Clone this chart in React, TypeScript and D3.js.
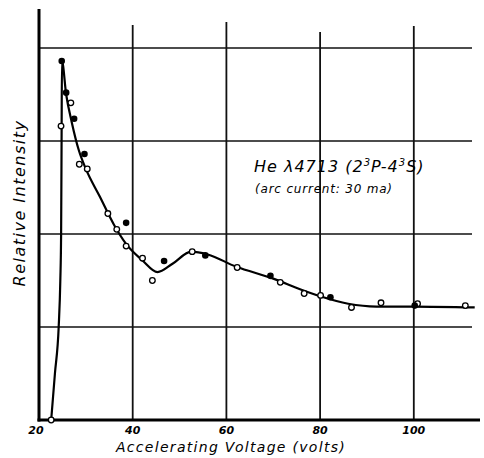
import { useRef, useEffect } from "react";
import * as d3 from "d3";

// measured points (open and filled circles), voltage in volts, relative intensity in grid units
const openV = [22.6, 24.7, 26.8, 28.6, 30.3, 34.7, 36.6, 38.6, 42.1, 44.2, 52.7, 62.3, 71.5, 76.6, 80.1, 86.7, 93.0, 100.8, 111.0];
const openI = [0.0, 3.16, 3.41, 2.75, 2.7, 2.22, 2.05, 1.87, 1.74, 1.5, 1.81, 1.64, 1.48, 1.36, 1.34, 1.21, 1.26, 1.25, 1.23];
const filledV = [24.85, 25.8, 27.5, 29.7, 38.6, 46.7, 55.5, 69.4, 82.2, 100.2];
const filledI = [3.86, 3.52, 3.24, 2.86, 2.12, 1.71, 1.77, 1.55, 1.32, 1.23];

// hand-drawn excitation curve
const curveV = [22.6, 23.4, 24.2, 24.55, 24.72, 24.82, 24.9, 25.8, 27.0, 28.5, 30.0, 33.0, 36.0, 38.5, 42.0, 45.3, 48.5, 52.5, 56.0, 62.0, 70.0, 76.0, 80.0, 86.0, 92.0, 100.0, 113.0];
const curveI = [0.0, 0.5, 1.0, 1.5, 2.0, 3.0, 3.86, 3.5, 3.2, 2.9, 2.7, 2.4, 2.1, 1.9, 1.72, 1.59, 1.68, 1.81, 1.78, 1.65, 1.52, 1.4, 1.33, 1.25, 1.22, 1.22, 1.21];

const xTicks = [20, 40, 60, 80, 100];
const yGrid = [1, 2, 3, 4];
const gridTops = [25, 22, 32, 26];

export default function App() {
  const ref = useRef<SVGSVGElement>(null);

  useEffect(() => {
    const svg = d3.select(ref.current);
    svg.selectAll("*").remove();

    const x = d3.scaleLinear().domain([20, 100]).range([39, 413.8]);
    const y = d3.scaleLinear().domain([0, 4]).range([420, 48]);
    const font = "'DejaVu Sans', sans-serif";

    svg.append("rect").attr("width", 484).attr("height", 458).attr("fill", "#fff");

    // horizontal grid
    yGrid.forEach((v) => {
      svg.append("line")
        .attr("x1", x(20)).attr("x2", 472)
        .attr("y1", y(v)).attr("y2", y(v))
        .attr("stroke", "#111").attr("stroke-width", 1.6);
    });

    // vertical grid
    xTicks.slice(1).forEach((v, i) => {
      svg.append("line")
        .attr("x1", x(v)).attr("x2", x(v))
        .attr("y1", gridTops[i]).attr("y2", y(0))
        .attr("stroke", "#111").attr("stroke-width", 1.8);
    });

    // axes
    svg.append("line")
      .attr("x1", x(20)).attr("x2", x(20))
      .attr("y1", 9).attr("y2", y(0) + 1.5)
      .attr("stroke", "#000").attr("stroke-width", 3);
    svg.append("line")
      .attr("x1", x(20) - 1.5).attr("x2", 480)
      .attr("y1", y(0)).attr("y2", y(0))
      .attr("stroke", "#000").attr("stroke-width", 3);

    // tick labels
    xTicks.forEach((v) => {
      svg.append("text")
        .attr("x", v === 20 ? x(v) - 3 : x(v))
        .attr("y", 434)
        .attr("text-anchor", "middle")
        .attr("font-family", font)
        .attr("font-style", "italic")
        .attr("font-weight", "bold")
        .attr("font-size", 11)
        .text(v);
    });

    // curve
    const line = d3.line<number>()
      .x((_, i) => x(curveV[i]))
      .y((d) => y(d))
      .curve(d3.curveMonotoneX);
    svg.append("path")
      .datum(curveI)
      .attr("fill", "none")
      .attr("stroke", "#000")
      .attr("stroke-width", 2.2)
      .attr("d", line);

    // points
    openV.forEach((v, i) => {
      svg.append("circle")
        .attr("cx", x(v)).attr("cy", y(openI[i]))
        .attr("r", 2.8)
        .attr("fill", "#fff")
        .attr("stroke", "#000")
        .attr("stroke-width", 1.3);
    });
    filledV.forEach((v, i) => {
      svg.append("circle")
        .attr("cx", x(v)).attr("cy", y(filledI[i]))
        .attr("r", 3.3)
        .attr("fill", "#000");
    });

    // axis titles
    svg.append("text")
      .attr("x", 231).attr("y", 452)
      .attr("text-anchor", "middle")
      .attr("font-family", font)
      .attr("font-style", "italic")
      .attr("font-size", 14)
      .attr("letter-spacing", 1.3)
      .text("Accelerating Voltage (volts)");

    svg.append("text")
      .attr("transform", "translate(25,203) rotate(-90)")
      .attr("text-anchor", "middle")
      .attr("font-family", font)
      .attr("font-style", "italic")
      .attr("font-size", 16)
      .attr("letter-spacing", 1.5)
      .text("Relative Intensity");

    // annotation
    const ann = svg.append("text")
      .attr("x", 254).attr("y", 172)
      .attr("font-family", font)
      .attr("font-style", "italic")
      .attr("font-size", 16)
      .attr("letter-spacing", 1);
    ann.append("tspan").text("He  λ4713  (2");
    ann.append("tspan").attr("dy", -6).attr("font-size", 10).text("3");
    ann.append("tspan").attr("dy", 6).text("P-4");
    ann.append("tspan").attr("dy", -6).attr("font-size", 10).text("3");
    ann.append("tspan").attr("dy", 6).text("S)");

    svg.append("text")
      .attr("x", 255).attr("y", 193)
      .attr("font-family", font)
      .attr("font-style", "italic")
      .attr("font-size", 12)
      .attr("letter-spacing", 0.8)
      .text("(arc current: 30 ma)");
  }, []);

  return (
    <svg
      ref={ref}
      width={484}
      height={458}
      style={{ position: "absolute", left: 0, top: 0 }}
    />
  );
}
